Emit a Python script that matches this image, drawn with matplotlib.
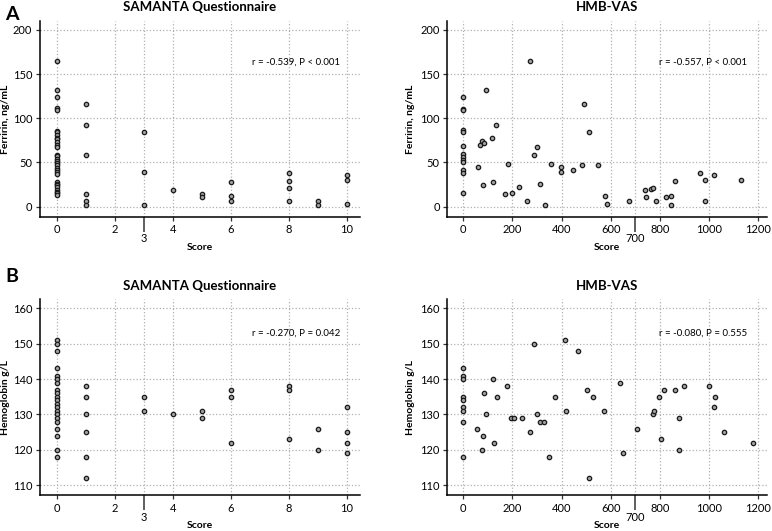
import matplotlib
matplotlib.use("Agg")
import matplotlib.pyplot as plt
from matplotlib.ticker import FixedLocator, FixedFormatter

plt.rcParams['font.family'] = ['Lato', 'DejaVu Sans']

# ---- Panel A: Ferritin vs SAMANTA score ----
samanta_ferr_score = ([0]*31 + [1]*6 + [3]*3 + [4] + [5]*2 + [6]*3 + [8]*4 + [9]*2 + [10]*3)
samanta_ferr_value = [165, 132, 124, 112, 109, 86, 84, 81, 78, 76, 73, 70, 68,
                      59, 57, 54, 52, 49, 47, 44, 42, 39, 37,
                      28, 26, 24, 22, 19, 17, 15, 13,
                      116, 92, 59, 14, 6, 2,
                      84, 39, 2,
                      19,
                      14, 11,
                      28, 12, 7,
                      38, 29, 21, 7,
                      7, 2,
                      36, 30, 3]

# ---- Panel A: Ferritin vs HMB-VAS ----
hmb_ferr_score = [0]*13 + [58, 79, 75, 70, 85, 91, 115, 133, 122, 169, 183, 197, 226, 260,
                           273, 289, 298, 313, 334, 357, 397, 399, 447, 484, 491, 510, 549,
                           576, 584, 675, 739, 745, 764, 773, 782, 824, 843, 843, 861, 961,
                           982, 985, 1020, 1131]
hmb_ferr_value = [124, 111, 109, 87, 84, 69, 60, 56, 53, 50, 41, 38, 16,
                  45, 25, 74, 70, 72, 132, 78, 92, 28, 14, 48, 16, 22, 6,
                  165, 59, 67, 26, 2, 48, 45, 39, 42, 47, 116, 84, 47,
                  12.5, 3, 7, 19, 11, 20, 21, 7, 11, 12.5, 2, 29, 38,
                  30, 7, 36, 30]

# ---- Panel B: Hemoglobin vs SAMANTA score ----
samanta_hb_score = ([0]*21 + [1]*6 + [3]*2 + [4] + [5]*2 + [6]*3 + [8]*3 + [9]*2 + [10]*4)
samanta_hb_value = [151, 150, 148, 143, 141, 140, 139, 137, 136, 135, 134, 133, 132,
                    131, 130, 129, 128, 126, 124, 120, 118,
                    138, 135, 130, 125, 118, 112,
                    135, 131,
                    130,
                    131, 129,
                    137, 135, 122,
                    138, 137, 123,
                    126, 120,
                    132, 125, 122, 119]

# ---- Panel B: Hemoglobin vs HMB-VAS ----
hmb_hb_score = [0]*9 + [57, 79, 75, 83, 91, 119, 126, 138, 176, 193, 206, 237, 273, 287,
                        301, 311, 327, 348, 373, 414, 416, 466, 504, 511, 529, 571, 637,
                        648, 706, 770, 776, 796, 805, 815, 861, 877, 877, 896, 999, 1022,
                        1021, 1062, 1180]
hmb_hb_value = [143, 141, 140, 135, 134, 132, 131, 128, 118,
                126, 124, 120, 136, 130, 140, 122, 135, 138, 129, 129, 129, 125, 150,
                130, 128, 128, 118, 135, 151, 131, 148, 137, 112, 135, 131, 139,
                119, 126, 130, 131, 135, 123, 137, 137, 129, 120, 138, 138, 135,
                132, 125, 122]

samanta_ticks = [0, 2, 4, 6, 8, 10]
samanta_extra = [3]
hmb_ticks = [0, 200, 400, 600, 800, 1000, 1200]
hmb_extra = [700]
ferr_ticks = [0, 50, 100, 150, 200]
hb_ticks = [110, 120, 130, 140, 150, 160]

W, H = 772, 531
fig = plt.figure(figsize=(W/100, H/100), dpi=100)

def px_axes(left, top, right, bottom):
    return fig.add_axes([left/W, 1 - bottom/H, (right-left)/W, (bottom-top)/H])

def style(ax, xs, ys, xticks, xextra, xlim, yticks, ylim, ylabel, title, note, ylab_x):
    ax.scatter(xs, ys, s=10, facecolor='#a0a0a0', edgecolor='#1a1a1a', linewidths=0.9, zorder=3)
    ax.set_xlim(*xlim)
    ax.set_ylim(*ylim)
    ax.set_xticks(xticks)
    ax.set_xticklabels([str(t) for t in xticks])
    ax.xaxis.set_minor_locator(FixedLocator(xextra))
    ax.xaxis.set_minor_formatter(FixedFormatter([str(t) for t in xextra]))
    ax.set_yticks(yticks)
    ax.set_yticklabels([str(t) for t in yticks])
    for s in ['top', 'right']:
        ax.spines[s].set_visible(False)
    for s in ['left', 'bottom']:
        ax.spines[s].set_linewidth(1.1)
    ax.tick_params(axis='both', which='major', length=3, width=0.9, labelsize=8, pad=2.5, color='#333333')
    ax.tick_params(axis='x', which='minor', length=11, width=1.1, labelsize=8, pad=1, color='#333333')
    ax.grid(True, which='both', axis='x', linestyle=':', color='#b0b0b0', linewidth=0.9)
    ax.grid(True, which='major', axis='y', linestyle=':', color='#b0b0b0', linewidth=0.9)
    ax.set_axisbelow(True)
    ax.set_xlabel('Score', fontsize=7.5, fontweight='bold')
    ax.xaxis.set_label_coords(0.5, -0.133)
    ax.set_ylabel(ylabel, fontsize=7.5, fontweight='bold')
    ax.yaxis.set_label_coords(ylab_x, 0.5)
    ax.set_title(title, fontsize=9.5, fontweight='bold', pad=7)
    ax.text(0.80, note[1], note[0], transform=ax.transAxes, fontsize=7, ha='center', va='center')

axA1 = px_axes(40, 21, 360, 216.7)
style(axA1, samanta_ferr_score, samanta_ferr_value, samanta_ticks, samanta_extra, (-0.57, 10.46),
      ferr_ticks, (-11.3, 210), 'Ferririn, ng/mL', 'SAMANTA Questionnaire',
      ('r = -0.539, P < 0.001', 0.79), -0.094)
axA2 = px_axes(447.3, 21, 766.7, 216.7)
style(axA2, hmb_ferr_score, hmb_ferr_value, hmb_ticks, hmb_extra, (-65, 1234),
      ferr_ticks, (-11.3, 210), 'Ferririn, ng/mL', 'HMB-VAS',
      ('r = -0.557, P < 0.001', 0.79), -0.101)
axB1 = px_axes(40, 299.3, 360, 495.3)
style(axB1, samanta_hb_score, samanta_hb_value, samanta_ticks, samanta_extra, (-0.57, 10.46),
      hb_ticks, (107.2, 162.5), 'Hemoglobin g/L', 'SAMANTA Questionnaire',
      ('r = -0.270, P = 0.042', 0.826), -0.094)
axB2 = px_axes(447.3, 299.3, 766.7, 495.3)
style(axB2, hmb_hb_score, hmb_hb_value, hmb_ticks, hmb_extra, (-65, 1234),
      hb_ticks, (107.2, 162.5), 'Hemoglobin g/L', 'HMB-VAS',
      ('r = -0.080, P = 0.555', 0.826), -0.101)

fig.text(12/W, 1 - 14/H, 'A', fontsize=14, fontweight='bold', ha='center', va='center')
fig.text(12/W, 1 - 277/H, 'B', fontsize=14, fontweight='bold', ha='center', va='center')

fig.savefig('out.png', dpi=100)
